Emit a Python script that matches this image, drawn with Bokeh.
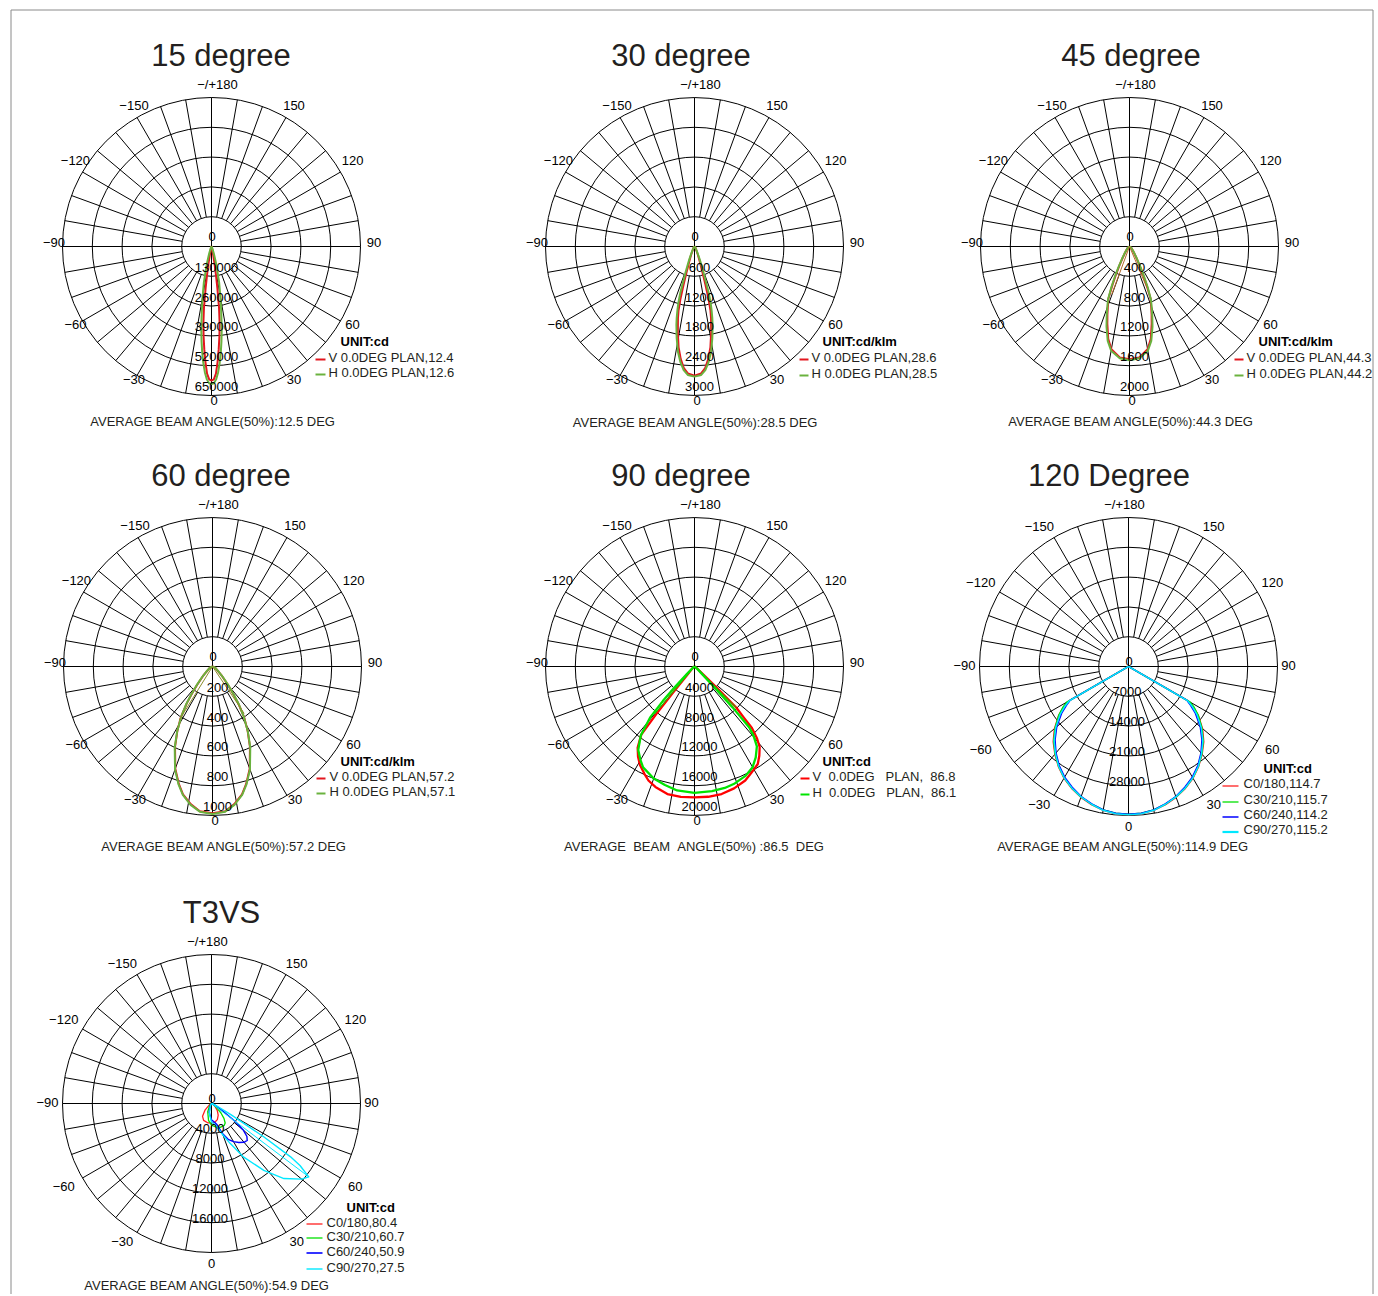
import math
from bokeh.plotting import figure
from bokeh.models import Range1d
from bokeh.embed import file_html
from bokeh.resources import INLINE
from bokeh.core.properties import value

# ======================= DATA =======================
angle_ticks = [180, 150, 120, 90, 60, 30, 0, -30, -60, -90, -120, -150]
angle_tick_labels = ["\u2212/+180", "150", "120", "90", "60", "30", "0",
                     "\u221230", "\u221260", "\u221290", "\u2212120", "\u2212150"]

# --- 15 degree (one side, symmetric) ---
c1_title = "15 degree"
c1_rings = [130000, 260000, 390000, 520000, 650000]
c1_ring_labels = ["130000", "260000", "390000", "520000", "650000"]
c1_ang = [0, 1, 2, 3, 4, 5, 6, 7, 8, 9, 10, 12, 15, 18, 22, 30, 45, 60, 90]
c1_V = [585000, 580000, 555000, 505000, 450000, 395000, 340000, 270000, 185000,
        120000, 75000, 30000, 12000, 6000, 3000, 2000, 1200, 800, 0]
c1_H = [600000, 597000, 580000, 550000, 510000, 465000, 415000, 365000, 310000,
        265000, 225000, 160000, 80000, 35000, 12000, 4000, 1500, 800, 0]
c1_unit = "UNIT:cd"
c1_legend = ["V 0.0DEG PLAN,12.4", "H 0.0DEG PLAN,12.6"]
c1_beam = "AVERAGE BEAM ANGLE(50%):12.5 DEG"

# --- 30 degree ---
c2_title = "30 degree"
c2_rings = [600, 1200, 1800, 2400, 3000]
c2_ring_labels = ["600", "1200", "1800", "2400", "3000"]
c2_ang = [0, 3, 5, 7, 9, 11, 13, 14, 15, 16, 17, 19, 22, 26, 30, 45, 60, 90]
c2_V = [2600, 2560, 2460, 2280, 2050, 1760, 1480, 1330, 1100, 800, 560, 340, 190, 90, 50, 20, 10, 0]
c2_H = [2620, 2590, 2500, 2340, 2140, 1880, 1620, 1480, 1330, 1180, 980, 560, 280, 120, 60, 20, 10, 0]
c2_unit = "UNIT:cd/klm"
c2_legend = ["V 0.0DEG PLAN,28.6", "H 0.0DEG PLAN,28.5"]
c2_beam = "AVERAGE BEAM ANGLE(50%):28.5 DEG"

# --- 45 degree ---
c3_title = "45 degree"
c3_rings = [400, 800, 1200, 1600, 2000]
c3_ring_labels = ["400", "800", "1200", "1600", "2000"]
c3_ang = [0, 5, 10, 13, 16, 18, 20, 22, 24, 26, 28, 31, 35, 40, 50, 60, 90]
c3_V = [1512, 1495, 1400, 1270, 1080, 960, 850, 760, 560, 400, 290, 180, 110, 70, 35, 20, 0]
c3_H = [1526, 1505, 1420, 1300, 1120, 990, 870, 770, 600, 440, 320, 200, 120, 70, 35, 20, 0]
c3_chord_ang = [-20.3, 22.9]
c3_chord_val = [682, 597]
c3_unit = "UNIT:cd/klm"
c3_legend = ["V 0.0DEG PLAN,44.3", "H 0.0DEG PLAN,44.2"]
c3_beam = "AVERAGE BEAM ANGLE(50%):44.3 DEG"

# --- 60 degree ---
c4_title = "60 degree"
c4_rings = [200, 400, 600, 800, 1000]
c4_ring_labels = ["200", "400", "600", "800", "1000"]
c4_ang = [0, 5, 9, 13, 16, 20, 25, 28.6, 32, 35, 37, 40, 45, 50, 60, 70, 90]
c4_V = [985, 975, 935, 880, 820, 730, 595, 493, 400, 300, 230, 160, 90, 50, 25, 12, 0]
c4_H = [990, 978, 940, 885, 825, 735, 600, 495, 395, 305, 240, 170, 95, 55, 25, 12, 0]
c4_chord_ang = [-31.8, 34]
c4_chord_val = [424, 380]
c4_unit = "UNIT:cd/klm"
c4_legend = ["V 0.0DEG PLAN,57.2", "H 0.0DEG PLAN,57.1"]
c4_beam = "AVERAGE BEAM ANGLE(50%):57.2 DEG"

# --- 90 degree (full -90..90) ---
c5_title = "90 degree"
c5_rings = [4000, 8000, 12000, 16000, 20000]
c5_ring_labels = ["4000", "8000", "12000", "16000", "20000"]
c5_ang_V = [-90, -55, -45, -41, -39.5, -38.8, -38, -35, -32, -29, -25, -22, -18, -12, -6, 0,
            6, 12, 18, 24, 28, 33, 36, 39, 41, 43, 44, 45.5, 46.5, 48, 55, 90]
c5_V = [0, 200, 500, 1500, 4600, 8200, 11600, 13300, 14300, 15100, 15900, 16500, 17000, 17500, 17600, 17580,
        17580, 17500, 17200, 16750, 16200, 15600, 14800, 13900, 12800, 11300, 9500, 7850, 4000, 1500, 300, 0]
c5_ang_H = [-90, -55, -48, -45, -43.5, -42.5, -41, -38, -34, -30, -27, -20, -14, -8, 0,
            8, 14, 19, 25, 30, 34, 38, 40.5, 42, 43, 43.6, 45, 50, 90]
c5_H = [0, 200, 600, 1500, 4000, 6300, 9100, 11700, 13500, 14500, 15200, 16000, 16400, 16800, 16950,
        16900, 16800, 16600, 16200, 15600, 14700, 13600, 12200, 11000, 7500, 3900, 1500, 500, 0]
c5_chord_ang = [-40, 45.5]
c5_chord_val = [8300, 7850]
c5_unit = "UNIT:cd"
c5_legend = ["V\u00a0\u00a00.0DEG\u00a0\u00a0\u00a0PLAN,\u00a0\u00a086.8",
             "H\u00a0\u00a00.0DEG\u00a0\u00a0\u00a0PLAN,\u00a0\u00a086.1"]
c5_beam = "AVERAGE\u00a0\u00a0BEAM\u00a0\u00a0ANGLE(50%)\u00a0:86.5\u00a0\u00a0DEG"

# --- 120 Degree (one side, symmetric) ---
c6_title = "120 Degree"
c6_rings = [7000, 14000, 21000, 28000, 35000]
c6_ring_labels = ["7000", "14000", "21000", "28000", ""]
c6_ang = [0, 5, 10, 15, 20, 25, 30, 35, 40, 45, 50, 55, 58, 60, 64, 90]
c6_C0 = [34800, 34700, 34300, 33600, 32700, 31600, 30300, 28700, 26900, 25000, 22700, 20000, 18000, 16300, 300, 0]
c6_C30 = [34700, 34600, 34200, 33500, 32600, 31500, 30200, 28600, 26800, 24800, 22500, 20000, 18200, 16600, 300, 0]
c6_C60 = [34700, 34600, 34200, 33400, 32500, 31300, 30000, 28400, 26500, 24400, 22000, 19200, 17200, 15800, 300, 0]
c6_C90 = [34800, 34700, 34300, 33500, 32600, 31500, 30200, 28600, 26700, 24700, 22300, 19600, 17600, 16000, 300, 0]
c6_unit = "UNIT:cd"
c6_legend = ["C0/180,114.7", "C30/210,115.7", "C60/240,114.2", "C90/270,115.2"]
c6_beam = "AVERAGE BEAM ANGLE(50%):114.9 DEG"

# --- T3VS (full -90..90) ---
c7_title = "T3VS"
c7_rings = [4000, 8000, 12000, 16000, 20000]
c7_ring_labels = ["4000", "8000", "12000", "16000", ""]
c7_ang_C0 = [-90, -60, -45, -35, -25, -10, 0, 10, 20, 30, 40, 50, 60, 90]
c7_C0 = [0, 300, 1200, 2100, 2500, 2650, 2600, 2550, 2300, 1800, 1200, 600, 200, 0]
c7_ang_C30 = [-90, -40, -25, -10, 0, 10, 20, 30, 35, 40, 45, 50, 60, 90]
c7_C30 = [0, 400, 1200, 2300, 2900, 3200, 3400, 3400, 3200, 2600, 1800, 1000, 300, 0]
c7_ang_C60 = [-90, -30, -15, 0, 10, 15, 20, 25, 30, 35, 40, 44, 47, 50, 53, 58, 65, 90]
c7_C60 = [0, 300, 1200, 2200, 2600, 3000, 4300, 5300, 5900, 6400, 6800, 6900, 6500, 5600, 4000, 1500, 500, 0]
c7_ang_C90 = [-90, -30, -20, -10, 0, 10, 20, 25, 31, 38, 44, 50, 53, 55, 56, 57.5, 60, 65, 70, 90]
c7_C90 = [0, 200, 600, 1500, 2500, 2900, 4500, 5900, 8400, 11400, 14000, 15800, 16350, 14500, 12800,
          8300, 3000, 800, 300, 0]
c7_chord_ang = [53]
c7_chord_val = [16350]
c7_unit = "UNIT:cd"
c7_legend = ["C0/180,80.4", "C30/210,60.7", "C60/240,50.9", "C90/270,27.5"]
c7_beam = "AVERAGE BEAM ANGLE(50%):54.9 DEG"

# ======================= STYLE / LAYOUT =======================
W, H = 1376, 1294
OX, OY = 0, 0
R_PX = 149.0
FONT = value("Liberation Sans")
TXT = "#231f20"
RED1, GREEN1 = "#e3161e", "#6ab23e"
RED2, GREEN2 = "#ff0000", "#00e400"
CRED, CGRN, CBLU, CCYN = "#ff2020", "#00e000", "#0000ff", "#00e8ff"


def mirror(ang, vals):
    a = [-x for x in reversed(ang)] + list(ang[1:])
    v = list(reversed(vals)) + list(vals[1:])
    return a, v


p = figure(width=W, height=H, x_range=Range1d(0, W), y_range=Range1d(H, 0),
           output_backend="svg", toolbar_location=None, min_border=0,
           x_axis_location=None, y_axis_location=None)
p.grid.visible = False
p.outline_line_color = None
p.background_fill_color = "white"
p.border_fill_color = "white"

# page frame
p.line([10.5 - OX, 10.5 - OX, 1372.5 - OX, 1372.5 - OX], [H, 9.5 - OY, 9.5 - OY, H],
       line_color="#8a8a8a", line_width=1)

charts = [
    dict(center=(211, 246), style="A", rings=c1_rings, rlab=c1_ring_labels,
         series=[(*mirror(c1_ang, c1_V), RED1, 2.0), (*mirror(c1_ang, c1_H), GREEN1, 2.0)],
         chords=None, title=c1_title, tpos=(220.5, 55), beam=c1_beam, bpos=(212.5, 421),
         unit=c1_unit, upos=(340, 341), legend=c1_legend, lcol=[RED1, GREEN1], lw_leg=[2, 2],
         lx=(315, 325), ltx=328, ly=[357, 372], ldy=2),
    dict(center=(694, 246), style="A", rings=c2_rings, rlab=c2_ring_labels,
         series=[(*mirror(c2_ang, c2_V), RED1, 2.0), (*mirror(c2_ang, c2_H), GREEN1, 2.0)],
         chords=None, title=c2_title, tpos=(680.5, 55), beam=c2_beam, bpos=(695, 422),
         unit=c2_unit, upos=(822, 341), legend=c2_legend, lcol=[RED1, GREEN1], lw_leg=[2, 2],
         lx=(799, 808), ltx=811, ly=[357, 373], ldy=2),
    dict(center=(1129, 246), style="A", rings=c3_rings, rlab=c3_ring_labels,
         series=[(*mirror(c3_ang, c3_V), RED1, 2.0), (*mirror(c3_ang, c3_H), GREEN1, 2.0)],
         chords=(c3_chord_ang, c3_chord_val, "#b36a2a"), title=c3_title, tpos=(1130.5, 55),
         beam=c3_beam, bpos=(1130.5, 421),
         unit=c3_unit, upos=(1258, 341), legend=c3_legend, lcol=[RED1, GREEN1], lw_leg=[2, 2],
         lx=(1234, 1243), ltx=1246, ly=[357, 373], ldy=2),
    dict(center=(212, 666), style="A", rings=c4_rings, rlab=c4_ring_labels,
         series=[(*mirror(c4_ang, c4_V), RED1, 2.0), (*mirror(c4_ang, c4_H), GREEN1, 2.0)],
         chords=(c4_chord_ang, c4_chord_val, "#8b8b2b"), title=c4_title, tpos=(220.5, 475),
         beam=c4_beam, bpos=(223.5, 846),
         unit=c4_unit, upos=(340, 761), legend=c4_legend, lcol=[RED1, GREEN1], lw_leg=[2, 2],
         lx=(316, 325), ltx=329, ly=[776, 791], ldy=2),
    dict(center=(694, 666), style="A", rings=c5_rings, rlab=c5_ring_labels,
         series=[(c5_ang_V, c5_V, RED2, 2.3), (c5_ang_H, c5_H, GREEN2, 2.3)],
         chords=(c5_chord_ang, c5_chord_val, GREEN2), title=c5_title, tpos=(680.5, 475),
         beam=c5_beam, bpos=(693.5, 846),
         unit=c5_unit, upos=(822, 761), legend=c5_legend, lcol=[RED2, GREEN2], lw_leg=[2, 2],
         lx=(800, 809), ltx=812, ly=[776, 792], ldy=2),
    dict(center=(1128, 666), style="B", rings=c6_rings, rlab=c6_ring_labels,
         series=[(*mirror(c6_ang, c6_C0), CRED, 1.5), (*mirror(c6_ang, c6_C30), CGRN, 1.5),
                 (*mirror(c6_ang, c6_C60), CBLU, 1.5), (*mirror(c6_ang, c6_C90), CCYN, 1.5)],
         chords=None, title=c6_title, tpos=(1108.5, 475), beam=c6_beam, bpos=(1122.5, 846),
         unit=c6_unit, upos=(1263, 768), legend=c6_legend, lcol=[CRED, CGRN, CBLU, CCYN],
         lw_leg=[1.3, 1.3, 1.5, 2.2],
         lx=(1222, 1238), ltx=1243, ly=[783, 799, 814, 829], ldy=2.5),
    dict(center=(211, 1103), style="B", rings=c7_rings, rlab=c7_ring_labels,
         series=[(c7_ang_C0, c7_C0, CRED, 1.3), (c7_ang_C30, c7_C30, CGRN, 1.3),
                 (c7_ang_C60, c7_C60, CBLU, 1.4), (c7_ang_C90, c7_C90, CCYN, 1.4)],
         chords=(c7_chord_ang, c7_chord_val, CCYN), title=c7_title, tpos=(221, 912),
         beam=c7_beam, bpos=(206.5, 1285),
         unit=c7_unit, upos=(346, 1207), legend=c7_legend, lcol=[CRED, CGRN, CBLU, CCYN],
         lw_leg=[1.3, 1.3, 1.6, 1.4],
         lx=(306, 322), ltx=326, ly=[1222, 1236, 1251, 1267], ldy=1.5),
]


def polar(a, v):
    r = math.radians(a)
    return v * math.sin(r), -v * math.cos(r)


for i, c in enumerate(charts):
    cx, cy = c["center"]
    rings = c["rings"]
    vmax = rings[-1]
    k = vmax / R_PX
    xn, yn = "x%d" % i, "y%d" % i
    p.extra_x_ranges[xn] = Range1d(-(cx - OX) * k, (OX + W - cx) * k)
    p.extra_y_ranges[yn] = Range1d(-(OY + H - cy) * k, (cy - OY) * k)
    kw = dict(x_range_name=xn, y_range_name=yn)

    # grid rings
    p.circle(x=[0] * len(rings), y=[0] * len(rings), radius=rings, fill_color=None,
             line_color="black", line_width=1, **kw)
    # spokes
    r0 = rings[0]
    sp = [a for a in range(0, 360, 10) if a % 90 != 0]
    x0 = [polar(a, r0)[0] for a in sp]
    y0 = [polar(a, r0)[1] for a in sp]
    x1 = [polar(a, vmax)[0] for a in sp]
    y1 = [polar(a, vmax)[1] for a in sp]
    p.segment(x0, y0, x1, y1, line_color="black", line_width=1, **kw)
    p.segment([-vmax, 0], [0, -vmax], [vmax, 0], [0, vmax], line_color="black", line_width=1, **kw)

    # curves
    for ang, vals, col, lw in c["series"]:
        pts = [polar(a, v) for a, v in zip(ang, vals)]
        p.line([q[0] for q in pts], [q[1] for q in pts], line_color=col, line_width=lw,
               line_join="round", **kw)
    if c["chords"] is not None:
        ca, cv, ccol = c["chords"]
        for a, v in zip(ca, cv):
            xe, ye = polar(a, v)
            p.line([0, xe], [0, ye], line_color=ccol, line_width=1, **kw)

    # ring labels
    styleA = c["style"] == "A"
    rdy = -9 if styleA else -4.5
    rdx = 5 if styleA else -1.5
    p.text(x=[0] * len(rings), y=[-r for r in rings], text=c["rlab"], x_offset=rdx, y_offset=rdy,
           text_align="center", text_baseline="middle", text_font=FONT, text_font_size="13px",
           text_color="black", **kw)
    p.text(x=[0], y=[0], text=["0"], x_offset=0.5, y_offset=(-10.5 if styleA else -5),
           text_align="center", text_baseline="middle", text_font=FONT, text_font_size="13px",
           text_color="black", **kw)

    # angle labels
    lx_, ly_ = [], []
    for a in angle_ticks:
        s, co = math.sin(math.radians(a)), math.cos(math.radians(a))
        nudge = 3.0 * math.copysign(1, co) if abs(abs(a) - 90) == 30 else 0.0
        if styleA:
            dx = 160 * s + 2.5
            dy = 158 * co - 4 + nudge
            if a == 180:
                dx = 6
        else:
            dx = 160 * s + 12 * s * abs(co) - (4 if a < 0 else 0)
            dy = 161 * co - 1 + nudge
            if a == 180:
                dx = -4
        lx_.append(dx * k)
        ly_.append(-dy * k)
    p.text(x=lx_, y=ly_, text=angle_tick_labels, text_align="center", text_baseline="middle",
           text_font=FONT, text_font_size="13px", text_color="black", **kw)

    # title, beam text
    p.text(x=[c["tpos"][0] - OX], y=[c["tpos"][1] - OY], text=[c["title"]], text_align="center",
           text_baseline="middle", text_font=FONT, text_font_size="31px", text_color=TXT)
    p.text(x=[c["bpos"][0] - OX], y=[c["bpos"][1] - OY], text=[c["beam"]], text_align="center",
           text_baseline="middle", text_font=FONT, text_font_size="13px", text_color=TXT)

    # legend
    p.text(x=[c["upos"][0] - OX], y=[c["upos"][1] - OY], text=[c["unit"]], text_align="left",
           text_baseline="middle", text_font=FONT, text_font_size="13px", text_font_style="bold",
           text_color="black")
    for j, (lab, col) in enumerate(zip(c["legend"], c["lcol"])):
        yy = c["ly"][j] - OY
        p.segment([c["lx"][0] - OX], [yy + c["ldy"]], [c["lx"][1] - OX], [yy + c["ldy"]],
                  line_color=col, line_width=c["lw_leg"][j])
        p.text(x=[c["ltx"] - OX], y=[yy], text=[lab], text_align="left", text_baseline="middle",
               text_font=FONT, text_font_size="13px", text_color=TXT)

open("out.html", "w").write(file_html(p, INLINE))
